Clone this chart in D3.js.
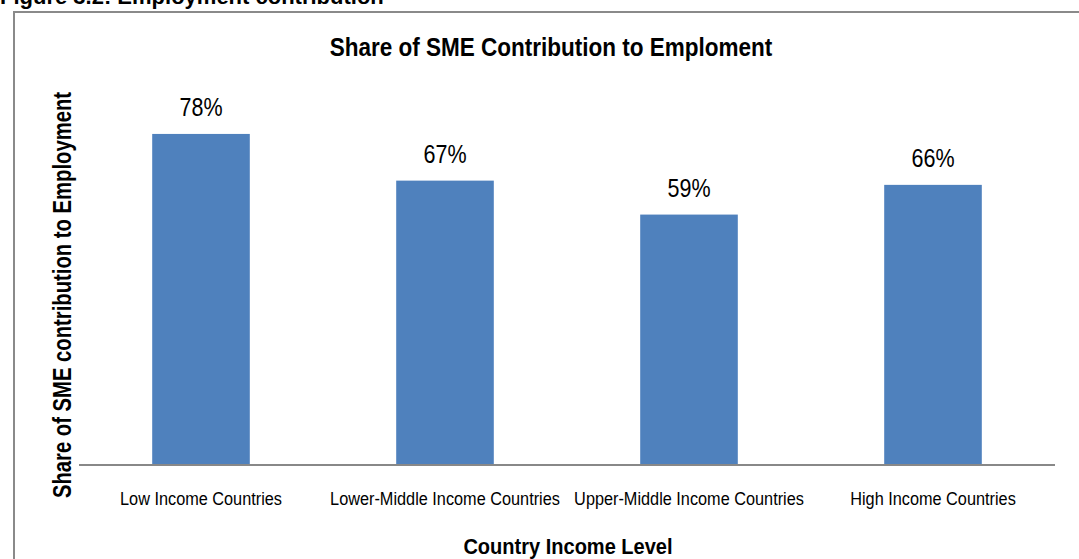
<!DOCTYPE html>
<html>
<head>
<meta charset="utf-8">
<script src="https://cdn.jsdelivr.net/npm/d3@7/dist/d3.min.js"></script>
<style>
  html, body { margin: 0; padding: 0; background: #fff; }
  svg { display: block; font-family: "Liberation Sans", Arial, sans-serif; }
</style>
</head>
<body>
<svg id="chart" width="1079" height="559"></svg>
<script>
// Income groups and SME share of employment
const categories = [
  "Low Income Countries",
  "Lower-Middle Income Countries",
  "Upper-Middle Income Countries",
  "High Income Countries"
];
const shares = [0.78, 0.67, 0.59, 0.66];
const valueLabels = ["78%", "67%", "59%", "66%"];

const svg = d3.select("#chart");
const W = 1079, H = 559;

// Squeeze text horizontally to a narrower, Calibri-like set width
function condense(sel, k) {
  sel.each(function () {
    const len = this.getComputedTextLength();
    d3.select(this)
      .attr("textLength", len * k)
      .attr("lengthAdjust", "spacingAndGlyphs");
  });
}

// Figure caption running along the top edge
svg.append("text")
  .attr("x", 0)
  .attr("y", 4)
  .attr("font-weight", "bold")
  .attr("font-size", 22)
  .attr("fill", "#000")
  .text("Figure 3.2: Employment contribution");

// Frame around the chart area (top and left edges)
svg.append("path")
  .attr("d", `M14,${H} L14,12 L${W},12`)
  .attr("fill", "none")
  .attr("stroke", "#8a8a8a")
  .attr("stroke-width", 2);

const plot = { left: 79, right: 1055, bottom: 465 };

const x = d3.scaleBand()
  .domain(categories)
  .range([plot.left, plot.right])
  .paddingInner(0.6)
  .paddingOuter(0.3);

const y = d3.scaleLinear()
  .domain([0, 0.9])
  .range([plot.bottom, 83]);

const data = categories.map((c, i) => ({ cat: c, v: shares[i], label: valueLabels[i] }));

// Bars
svg.append("g")
  .selectAll("rect")
  .data(data)
  .join("rect")
  .attr("x", d => x(d.cat))
  .attr("y", d => y(d.v))
  .attr("width", x.bandwidth())
  .attr("height", d => y(0) - y(d.v))
  .attr("fill", "#4F81BD");

// Value labels above each bar
svg.append("g")
  .selectAll("text")
  .data(data)
  .join("text")
  .attr("x", d => x(d.cat) + x.bandwidth() / 2)
  .attr("y", d => y(d.v) - 18)
  .attr("text-anchor", "middle")
  .attr("font-size", 25)
  .attr("fill", "#000")
  .text(d => d.label)
  .call(condense, 0.86);

// Category axis
const xAxis = svg.append("g")
  .attr("transform", `translate(0,${plot.bottom})`)
  .call(d3.axisBottom(x).tickSize(0).tickPadding(40));
xAxis.select(".domain")
  .attr("stroke", "#888")
  .attr("stroke-width", 2)
  .attr("d", `M${plot.left},0H${plot.right}`);
xAxis.selectAll(".tick text")
  .attr("font-family", "'Liberation Sans', Arial, sans-serif")
  .attr("font-size", 17.5)
  .attr("fill", "#000")
  .attr("dy", 0)
  .attr("y", 40)
  .call(condense, 0.93);

// Chart title
svg.append("text")
  .attr("x", 551)
  .attr("y", 56)
  .attr("text-anchor", "middle")
  .attr("font-weight", "bold")
  .attr("font-size", 25)
  .attr("fill", "#000")
  .text("Share of SME Contribution to Emploment")
  .call(condense, 0.9);

// Axis titles
svg.append("text")
  .attr("x", 568)
  .attr("y", 554)
  .attr("text-anchor", "middle")
  .attr("font-weight", "bold")
  .attr("font-size", 22)
  .attr("fill", "#000")
  .text("Country Income Level")
  .call(condense, 0.91);

svg.append("text")
  .attr("transform", "translate(71,295) rotate(-90)")
  .attr("text-anchor", "middle")
  .attr("font-weight", "bold")
  .attr("font-size", 25)
  .attr("fill", "#000")
  .text("Share of SME contribution to Employment")
  .call(condense, 0.81);
</script>
</body>
</html>
